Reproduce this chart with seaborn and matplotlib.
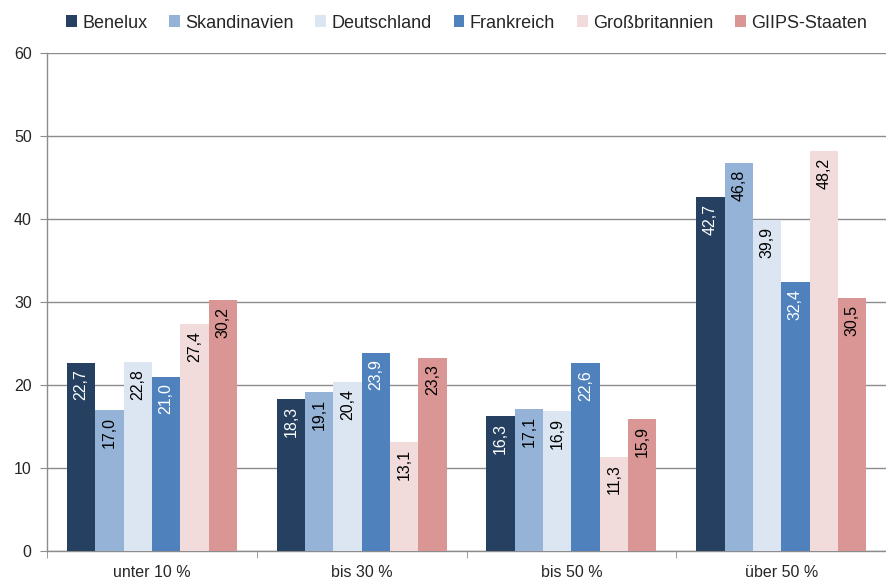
import numpy as np
import pandas as pd
import matplotlib.pyplot as plt
import seaborn as sns

GROUPS  = ["unter 10 %", "bis 30 %", "bis 50 %", "über 50 %"]
REGIONS = ["Benelux", "Skandinavien", "Deutschland", "Frankreich", "Großbritannien", "GIIPS-Staaten"]
COLORS  = ["#254061", "#95B3D7", "#DCE6F2", "#4F81BD", "#F2DCDB", "#D99694"]
TEXTCOL = ["white", "black", "black", "white", "black", "black"]

values = {
    "Benelux":        [22.7, 18.3, 16.3, 42.7],
    "Skandinavien":   [17.0, 19.1, 17.1, 46.8],
    "Deutschland":    [22.8, 20.4, 16.9, 39.9],
    "Frankreich":     [21.0, 23.9, 22.6, 32.4],
    "Großbritannien": [27.4, 13.1, 11.3, 48.2],
    "GIIPS-Staaten":  [30.2, 23.3, 15.9, 30.5],
}
df = pd.DataFrame(values, index=GROUPS).reset_index().melt(
    id_vars="index", var_name="Region", value_name="Anteil")
df = df.rename(columns={"index": "Gruppe"})

sns.set_style("white")
plt.rcParams["font.family"] = ["Liberation Sans", "DejaVu Sans"]

fig, ax = plt.subplots(figsize=(8.87, 5.78), dpi=100)
fig.subplots_adjust(left=0.053, right=0.999, bottom=0.047, top=0.908)

sns.barplot(data=df, x="Gruppe", y="Anteil", hue="Region", order=GROUPS,
            hue_order=REGIONS, palette=COLORS, width=0.81, saturation=1,
            edgecolor="none", ax=ax, zorder=3)

# value labels, rotated inside the bar top
for cont, tc in zip(ax.containers, TEXTCOL):
    for bar in cont:
        h = bar.get_height()
        ax.annotate(f"{h:.1f}".replace(".", ","),
                    (bar.get_x() + bar.get_width() / 2, h),
                    xytext=(0, -5), textcoords="offset points",
                    ha="center", va="top", rotation=90,
                    fontsize=11.5, color=tc, zorder=4)

ax.set_ylim(0, 60)
ax.set_yticks(range(0, 61, 10))
ax.set_xlim(-0.5, 3.5)
ax.yaxis.grid(True, color="#8c8c8c", linewidth=1, zorder=0)
ax.set_axisbelow(True)
ax.set_xlabel("")
ax.set_ylabel("")

for s in ["top", "right"]:
    ax.spines[s].set_visible(False)
for s in ["left", "bottom"]:
    ax.spines[s].set_color("#8c8c8c")
    ax.spines[s].set_linewidth(1)

ax.tick_params(axis="y", length=5, color="#8c8c8c", labelsize=11.5, left=True, pad=6)
ax.tick_params(axis="x", which="major", length=0, labelsize=11.5, pad=10)
ax.set_xticks(np.arange(-0.5, 4.0, 1.0), minor=True)
ax.tick_params(axis="x", which="minor", length=5, color="#8c8c8c", bottom=True)

ax.legend(loc="lower center", bbox_to_anchor=(0.5, 1.0), ncol=6, frameon=False,
          fontsize=13, handlelength=0.6, handleheight=0.6, handletextpad=0.3,
          columnspacing=1.2, borderaxespad=0.8)

plt.savefig("out.png", dpi=100)
